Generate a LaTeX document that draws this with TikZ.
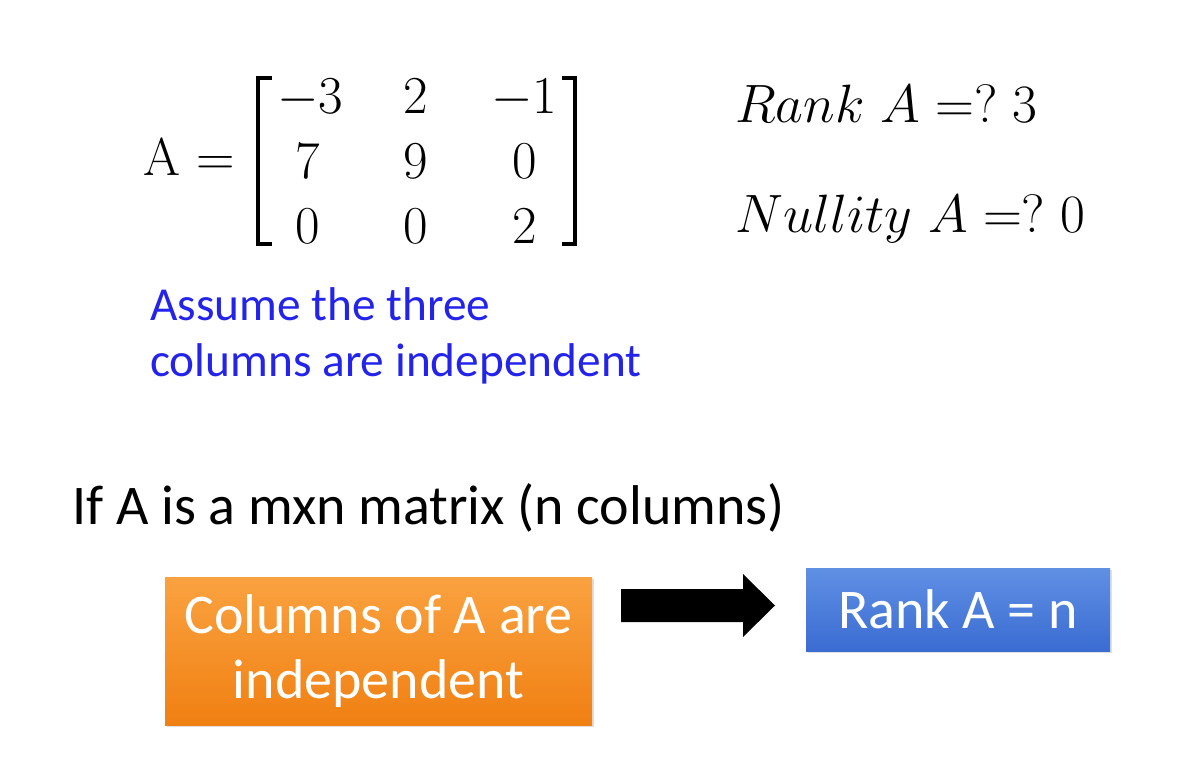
\RequirePackage{fix-cm}
\documentclass[tikz,border=0pt]{standalone}
\usepackage{fontspec}
\newfontfamily\carlito{Carlito}
\usetikzlibrary{calc,shadows}
\definecolor{bluetxt}{RGB}{35,35,235}
\definecolor{orgtop}{RGB}{250,162,64}
\definecolor{orgbot}{RGB}{240,128,18}
\definecolor{blutop}{RGB}{96,144,228}
\definecolor{blubot}{RGB}{58,108,210}
\tikzset{
  mtx/.style={inner sep=0pt, anchor=base, font=\fontsize{40}{48}\selectfont},
  brk/.style={line width=2.4pt, line cap=butt, line join=miter},
  rk/.style={inner sep=0pt, anchor=base west, font=\fontsize{40.5}{48}\selectfont},
  sanstxt/.style={inner sep=0pt, anchor=base west, font=\carlito\fontsize{42}{50}\selectfont},
  bluenote/.style={inner sep=0pt, anchor=base west, text=bluetxt, font=\carlito\fontsize{35.5}{40}\selectfont},
  obox/.style={top color=orgtop, bottom color=orgbot, minimum width=320.25pt, minimum height=111pt,
    inner sep=0pt, align=center, text=white, font=\carlito\fontsize{42}{47}\selectfont,
    drop shadow={shadow xshift=1.5pt, shadow yshift=-1.5pt, opacity=0.25}},
  bbox/.style={top color=blutop, bottom color=blubot, minimum width=228pt, minimum height=62.25pt,
    inner sep=0pt, text=white, font=\carlito\fontsize{42}{48}\selectfont,
    drop shadow={shadow xshift=1.5pt, shadow yshift=-1.5pt, opacity=0.25}},
  arrowfill/.style={fill=black}
}
\begin{document}
\begin{tikzpicture}[x=0.75pt,y=-0.75pt]
\useasboundingbox (0,0) rectangle (1193,782);
\fill[white] (0,0) rectangle (1193,782);

% matrix
\node[mtx, anchor=base west] (lhsA) at (143,175) {A};
\node[mtx, anchor=base west] (lhseq) at (196,175) {$=$};
\node[mtx] (a11) at (310,113) {$-3$};
\node[mtx] (a12) at (416,113) {$2$};
\node[mtx] (a13) at (524,113) {$-1$};
\node[mtx] (a21) at (308,178) {$7$};
\node[mtx] (a22) at (416,178) {$9$};
\node[mtx] (a23) at (525,178) {$0$};
\node[mtx] (a31) at (308,243) {$0$};
\node[mtx] (a32) at (416,243) {$0$};
\node[mtx] (a33) at (525,243) {$2$};
\draw[brk] (272,78) -- (258,78) -- (258,244) -- (272,244);
\draw[brk] (562,78) -- (575,78) -- (575,244) -- (562,244);

% rank / nullity
\node[rk] (rank) at (735,122) {$Rank\ A =?\;3$};
\node[rk] (nullity) at (735,232) {$Nullity\ A =?\;0$};

% blue note
\node[bluenote] (assume1) at (150,320) {Assume the three};
\node[bluenote] (assume2) at (150,376) {columns are independent};

% statement
\node[sanstxt] (iftxt) at (72,524) {If A is a mxn matrix (n columns)};

% boxes
\node[obox] (cols) at (378.5,651) {Columns of A are\\[2pt]independent};
\node[bbox] (rnk) at (958,609.5) {Rank A = n};

% arrow
\coordinate (as) at (621,605.5);
\coordinate (ae) at (775,605.5);
\fill[arrowfill] ($(as)+(0,-16.5)$) -- ($(ae)+(-32,-16.5)$) -- ($(ae)+(-32,-31.5)$) -- (ae)
  -- ($(ae)+(-32,31.5)$) -- ($(ae)+(-32,16.5)$) -- ($(as)+(0,16.5)$) -- cycle;
\end{tikzpicture}
\end{document}
